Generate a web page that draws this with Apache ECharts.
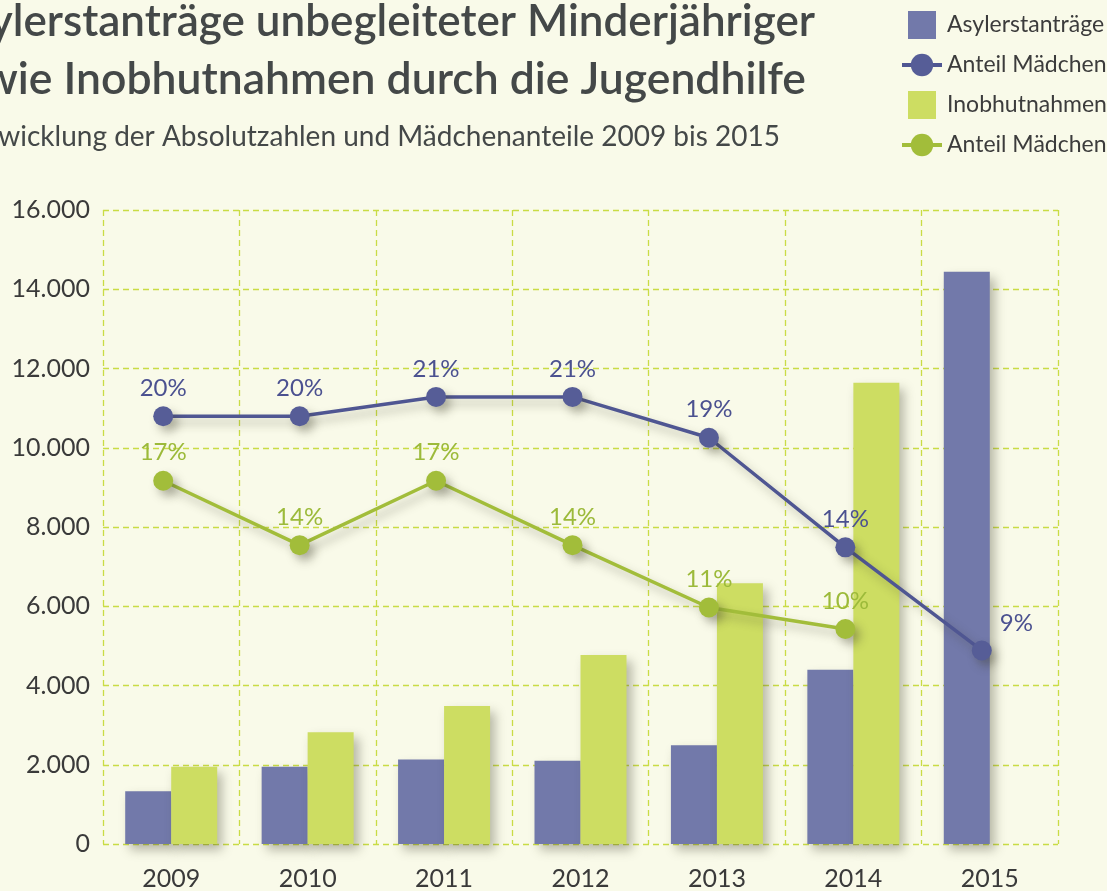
<!DOCTYPE html>
<html>
<head>
<meta charset="utf-8">
<script src="https://cdn.jsdelivr.net/npm/echarts@6/dist/echarts.min.js"></script>
<style>
  html, body { margin: 0; padding: 0; background: #f9fae9; }
  #chart { width: 1107px; height: 891px; }
</style>
</head>
<body>
<div id="chart"></div>
<script>
const years = ['2009', '2010', '2011', '2012', '2013', '2014', '2015'];
// absolute numbers
const asylumApplications = [1330, 1950, 2130, 2100, 2490, 4400, 14440];
const custodyCases = [1950, 2820, 3480, 4770, 6580, 11640, null];
// share of girls in percent
const asylumGirlsShare = [20, 20, 20.9, 20.9, 19, 13.9, 9.1];
const custodyGirlsShare = [17, 14, 17, 14, 11.1, 10.1, null];

const FONT = 'Lato';
const blueBar = '#7279aa';
const greenBar = '#cddd62';
const blueLine = '#4f5692';
const greenLine = '#a2bd3a';
const gridColor = '#c9dc45';
const textColor = '#444848';

const fmtThousands = v => String(v).replace(/\B(?=(\d{3})+(?!\d))/g, '.');

const shadow = {
  shadowBlur: 10,
  shadowColor: 'rgba(60,60,40,0.35)',
  shadowOffsetX: 5,
  shadowOffsetY: 6
};

function lineLabel(color) {
  return {
    show: true,
    position: 'top',
    distance: 6,
    fontFamily: FONT,
    fontSize: 24,
    color: color,
    formatter: p => Math.round(p.value) + '%'
  };
}

const chart = echarts.init(document.getElementById('chart'));

chart.setOption({
  backgroundColor: '#f9fae9',
  animation: false,
  textStyle: { fontFamily: FONT },
  graphic: [
    {
      type: 'text', right: 1107 - 815, top: 0,
      style: {
        text: 'Asylerstanträge unbegleiteter Minderjähriger',
        font: '600 44px Lato', fill: textColor, textAlign: 'right'
      }
    },
    {
      type: 'text', right: 1107 - 806, top: 57,
      style: {
        text: 'sowie Inobhutnahmen durch die Jugendhilfe',
        font: '600 44.5px Lato', fill: textColor, textAlign: 'right'
      }
    },
    {
      type: 'text', right: 1107 - 780, top: 123,
      style: {
        text: 'Entwicklung der Absolutzahlen und Mädchenanteile 2009 bis 2015',
        font: '28px Lato', fill: textColor, textAlign: 'right'
      }
    }
  ],
  legend: {
    orient: 'vertical',
    left: 895,
    top: 6,
    itemWidth: 40,
    itemHeight: 28,
    itemGap: 14.5,
    lineStyle: { width: 4 },
    textStyle: { fontFamily: FONT, fontSize: 23, color: '#3c3c3c' },
    formatter: name => name.replace(/ \(.*\)$/, ''),
    data: [
      { name: 'Asylerstanträge', icon: 'path://M0,0H10V10H0Z' },
      { name: 'Anteil Mädchen (Asyl)' },
      { name: 'Inobhutnahmen', icon: 'path://M0,0H10V10H0Z' },
      { name: 'Anteil Mädchen (Inobhut)' }
    ]
  },
  grid: [
    { left: 103, right: 49, top: 210, bottom: 45 },
    { left: 95, right: 57, top: 210, bottom: 45 }
  ],
  xAxis: [
    {
      type: 'category',
      gridIndex: 0,
      data: years,
      axisLine: { show: false },
      axisTick: { show: false },
      axisLabel: { fontFamily: FONT, fontSize: 25, color: '#3a3a3a', margin: 22 },
      splitLine: { show: true, lineStyle: { color: gridColor, type: [6, 4], width: 1.3 } }
    },
    {
      type: 'category',
      gridIndex: 1,
      data: years,
      show: false
    }
  ],
  yAxis: [
    {
      type: 'value',
      gridIndex: 0,
      min: 0,
      max: 16000,
      interval: 2000,
      axisLine: { show: false },
      axisTick: { show: false },
      axisLabel: {
        fontFamily: FONT, fontSize: 25, color: '#3a3a3a', margin: 13,
        formatter: fmtThousands
      },
      splitLine: { show: true, lineStyle: { color: gridColor, type: [6, 4], width: 1.3 } }
    },
    {
      type: 'value',
      gridIndex: 1,
      min: 0,
      max: 29.6,
      show: false,
      splitLine: { show: false }
    }
  ],
  series: [
    {
      name: 'Asylerstanträge',
      type: 'bar',
      xAxisIndex: 0, yAxisIndex: 0,
      barWidth: 46,
      barGap: '0%',
      itemStyle: Object.assign({ color: blueBar }, shadow),
      data: asylumApplications
    },
    {
      name: 'Inobhutnahmen',
      type: 'bar',
      xAxisIndex: 0, yAxisIndex: 0,
      barWidth: 46,
      barGap: '0%',
      itemStyle: Object.assign({ color: greenBar }, shadow),
      data: custodyCases
    },
    {
      name: 'Anteil Mädchen (Asyl)',
      type: 'line',
      xAxisIndex: 1, yAxisIndex: 1,
      symbol: 'circle',
      symbolSize: 20,
      z: 5,
      lineStyle: Object.assign({ color: blueLine, width: 3.5 }, shadow),
      itemStyle: Object.assign({ color: '#565d97' }, shadow),
      label: lineLabel('#4b5190'),
      data: asylumGirlsShare.map((v, i) => i === asylumGirlsShare.length - 1
        ? { value: v, label: { position: 'right', distance: 8, offset: [0, -27] } }
        : v)
    },
    {
      name: 'Anteil Mädchen (Inobhut)',
      type: 'line',
      xAxisIndex: 1, yAxisIndex: 1,
      symbol: 'circle',
      symbolSize: 20,
      z: 4,
      lineStyle: Object.assign({ color: greenLine, width: 3.5 }, shadow),
      itemStyle: Object.assign({ color: greenLine }, shadow),
      label: lineLabel('#9cba3a'),
      data: custodyGirlsShare
    }
  ]
});
</script>
</body>
</html>
